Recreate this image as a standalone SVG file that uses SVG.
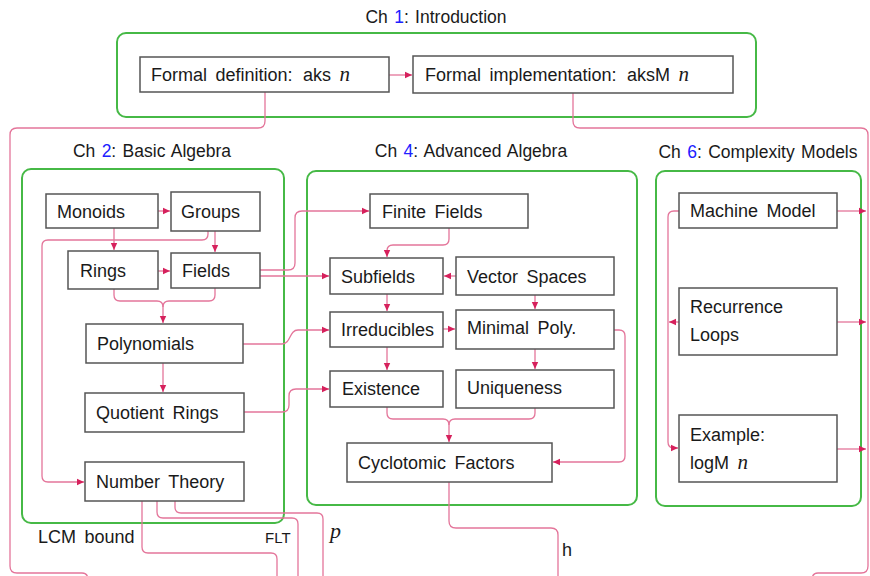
<svg xmlns="http://www.w3.org/2000/svg" width="870" height="576" viewBox="0 0 870 576">
<defs>
<marker id="ah" markerUnits="userSpaceOnUse" markerWidth="8" markerHeight="8" refX="7" refY="4" orient="auto">
<path d="M0,0.8 L7,4 L0,7.2 Z" fill="#d6215c"/>
</marker>
<style>
.grp{fill:none;stroke:#46b946;stroke-width:2}
.box{fill:#fff;stroke:#555;stroke-width:1.5}
.t{font-family:"Liberation Sans",Arial,sans-serif;font-size:18px;fill:#1a1a1a;word-spacing:3.5px}
.ttl{font-family:"Liberation Sans",Arial,sans-serif;font-size:17.5px;fill:#1a1a1a;word-spacing:1.5px}
.num{fill:#2020ff}
.m{font-family:"Liberation Serif","Times New Roman",serif;font-style:italic;font-size:21px}
.c{fill:none;stroke:#e4759a;stroke-width:1.3}
.a{marker-end:url(#ah)}
</style>
</defs>
<rect width="870" height="576" fill="#fff"/>

<g id="ch1">
<rect class="grp" x="117" y="33" width="639" height="84" rx="9"/>
<text class="ttl" x="436" y="23" text-anchor="middle">Ch <tspan class="num">1</tspan>: Introduction</text>
</g>
<g id="ch2">
<rect class="grp" x="22" y="169" width="262" height="354" rx="9"/>
<text class="ttl" x="152" y="157" text-anchor="middle">Ch <tspan class="num">2</tspan>: Basic Algebra</text>
</g>
<g id="ch4">
<rect class="grp" x="307" y="171" width="330" height="334" rx="9"/>
<text class="ttl" x="471" y="157" text-anchor="middle">Ch <tspan class="num">4</tspan>: Advanced Algebra</text>
</g>
<g id="ch6">
<rect class="grp" x="656" y="171" width="205" height="335" rx="9"/>
<text class="ttl" x="758" y="158" text-anchor="middle">Ch <tspan class="num">6</tspan>: Complexity Models</text>
</g>

<g id="connectors">
<path class="c a" d="M389,75 H412"/>
<path class="c" d="M265,92 V121 Q265,128 258,128 H17 Q10,128 10,135 V566 Q10,573 17,573 H82 Q88,573 88,580"/>
<path class="c" d="M573,93 V121 Q573,128 580,128 H861 Q868,128 868,135 V566 Q868,573 861,573 H818 Q812,573 812,580"/>
<path class="c a" d="M158,211 H170"/>
<path class="c a" d="M158,271 H170"/>
<path class="c a" d="M114,228 V250"/>
<path class="c a" d="M215,231 V252"/>
<path class="c a" d="M208,231 V234 Q208,240 202,240 H48 Q42,240 42,246 V476 Q42,482 48,482 H84"/>
<path class="c" d="M114,289 V295 Q114,301 120,301 H157 Q163,301 163,307"/>
<path class="c a" d="M215,288 V295 Q215,301 209,301 H169 Q163,301 163,307 V323"/>
<path class="c a" d="M163,363 V392"/>
<path class="c a" d="M260,270 H288 Q295,270 295,263 V218 Q295,211 302,211 H369"/>
<path class="c a" d="M260,276 H329"/>
<path class="c a" d="M243,344 H282 C291,344 289,330 298,330 H329"/>
<path class="c a" d="M244,412 H282 Q289,412 289,405 V396 Q289,389 296,389 H329"/>
<path class="c a" d="M449,228 V239 Q449,245 443,245 H393 Q387,245 387,251 V257"/>
<path class="c a" d="M456,276 H444"/>
<path class="c a" d="M535,295 V309"/>
<path class="c a" d="M387,294 V311"/>
<path class="c a" d="M443,329 H455"/>
<path class="c a" d="M387,347 V370"/>
<path class="c a" d="M535,349 V369"/>
<path class="c a" d="M614,330 H619 Q625,330 625,336 V456 Q625,462 619,462 H553"/>
<path class="c" d="M387,407 V413 Q387,419 393,419 H443 Q449,419 449,425"/>
<path class="c a" d="M535,408 V413 Q535,419 529,419 H455 Q449,419 449,425 V442"/>
<path class="c" d="M449,482 V521 Q449,528 456,528 H551 Q558,528 558,535 V580"/>
<path class="c" d="M142,501 V547 Q142,553 148,553 H271 Q277,553 277,559 V580"/>
<path class="c" d="M157,501 V512 Q157,518 163,518 H292 Q298,518 298,524 V580"/>
<path class="c" d="M175,501 V507 Q175,513 181,513 H317 Q323,513 323,519 V580"/>
<path class="c a" d="M679,211 H674 Q668,211 668,217 V442 Q668,448 674,448 H678"/>
<path class="c a" d="M679,322 H669"/>
<path class="c a" d="M837,211 H866"/>
<path class="c a" d="M837,322 H866"/>
<path class="c a" d="M837,449 H866"/>
<text class="t" x="38" y="543">LCM bound</text>
<text class="t" x="265" y="543" style="font-size:15px">FLT</text>
<text class="t m" x="330" y="538" style="font-size:22px">p</text>
<text class="t" x="562" y="556">h</text>
</g>

<g id="formal-def"><rect class="box" x="140" y="57" width="249" height="35"/><text class="t" x="151" y="81">Formal definition: <tspan dx="2">aks</tspan> <tspan class="m">n</tspan></text></g>
<g id="formal-impl"><rect class="box" x="413" y="56" width="320" height="37"/><text class="t" x="425" y="81">Formal implementation: <tspan dx="2">aksM</tspan> <tspan class="m">n</tspan></text></g>

<g id="monoids"><rect class="box" x="46" y="194" width="112" height="34"/><text class="t" x="57" y="218">Monoids</text></g>
<g id="groups"><rect class="box" x="171" y="192" width="89" height="39"/><text class="t" x="181" y="218">Groups</text></g>
<g id="rings"><rect class="box" x="68" y="251" width="90" height="38"/><text class="t" x="80" y="277">Rings</text></g>
<g id="fields"><rect class="box" x="171" y="253" width="89" height="35"/><text class="t" x="182" y="277">Fields</text></g>
<g id="polynomials"><rect class="box" x="86" y="324" width="157" height="39"/><text class="t" x="97" y="350">Polynomials</text></g>
<g id="quotient-rings"><rect class="box" x="85" y="393" width="159" height="39"/><text class="t" x="96" y="419">Quotient Rings</text></g>
<g id="number-theory"><rect class="box" x="85" y="462" width="159" height="39"/><text class="t" x="96" y="488">Number Theory</text></g>

<g id="finite-fields"><rect class="box" x="370" y="194" width="158" height="34"/><text class="t" x="382" y="218">Finite Fields</text></g>
<g id="subfields"><rect class="box" x="330" y="258" width="113" height="36"/><text class="t" x="341" y="283">Subfields</text></g>
<g id="vector-spaces"><rect class="box" x="456" y="257" width="158" height="38"/><text class="t" x="467" y="283">Vector Spaces</text></g>
<g id="irreducibles"><rect class="box" x="330" y="312" width="113" height="35"/><text class="t" x="341" y="336">Irreducibles</text></g>
<g id="minimal-poly"><rect class="box" x="456" y="310" width="158" height="39"/><text class="t" x="467" y="334">Minimal Poly.</text></g>
<g id="existence"><rect class="box" x="330" y="371" width="113" height="36"/><text class="t" x="342" y="395">Existence</text></g>
<g id="uniqueness"><rect class="box" x="456" y="370" width="158" height="38"/><text class="t" x="467" y="394">Uniqueness</text></g>
<g id="cyclotomic"><rect class="box" x="347" y="443" width="205" height="39"/><text class="t" x="358" y="469">Cyclotomic Factors</text></g>

<g id="machine-model"><rect class="box" x="679" y="193" width="158" height="35"/><text class="t" x="690" y="217">Machine Model</text></g>
<g id="recurrence-loops"><rect class="box" x="679" y="288" width="158" height="67"/><text class="t" x="690" y="313">Recurrence</text><text class="t" x="690" y="341">Loops</text></g>
<g id="example"><rect class="box" x="679" y="415" width="158" height="67"/><text class="t" x="690" y="441">Example:</text><text class="t" x="690" y="469">logM <tspan class="m">n</tspan></text></g>
</svg>
